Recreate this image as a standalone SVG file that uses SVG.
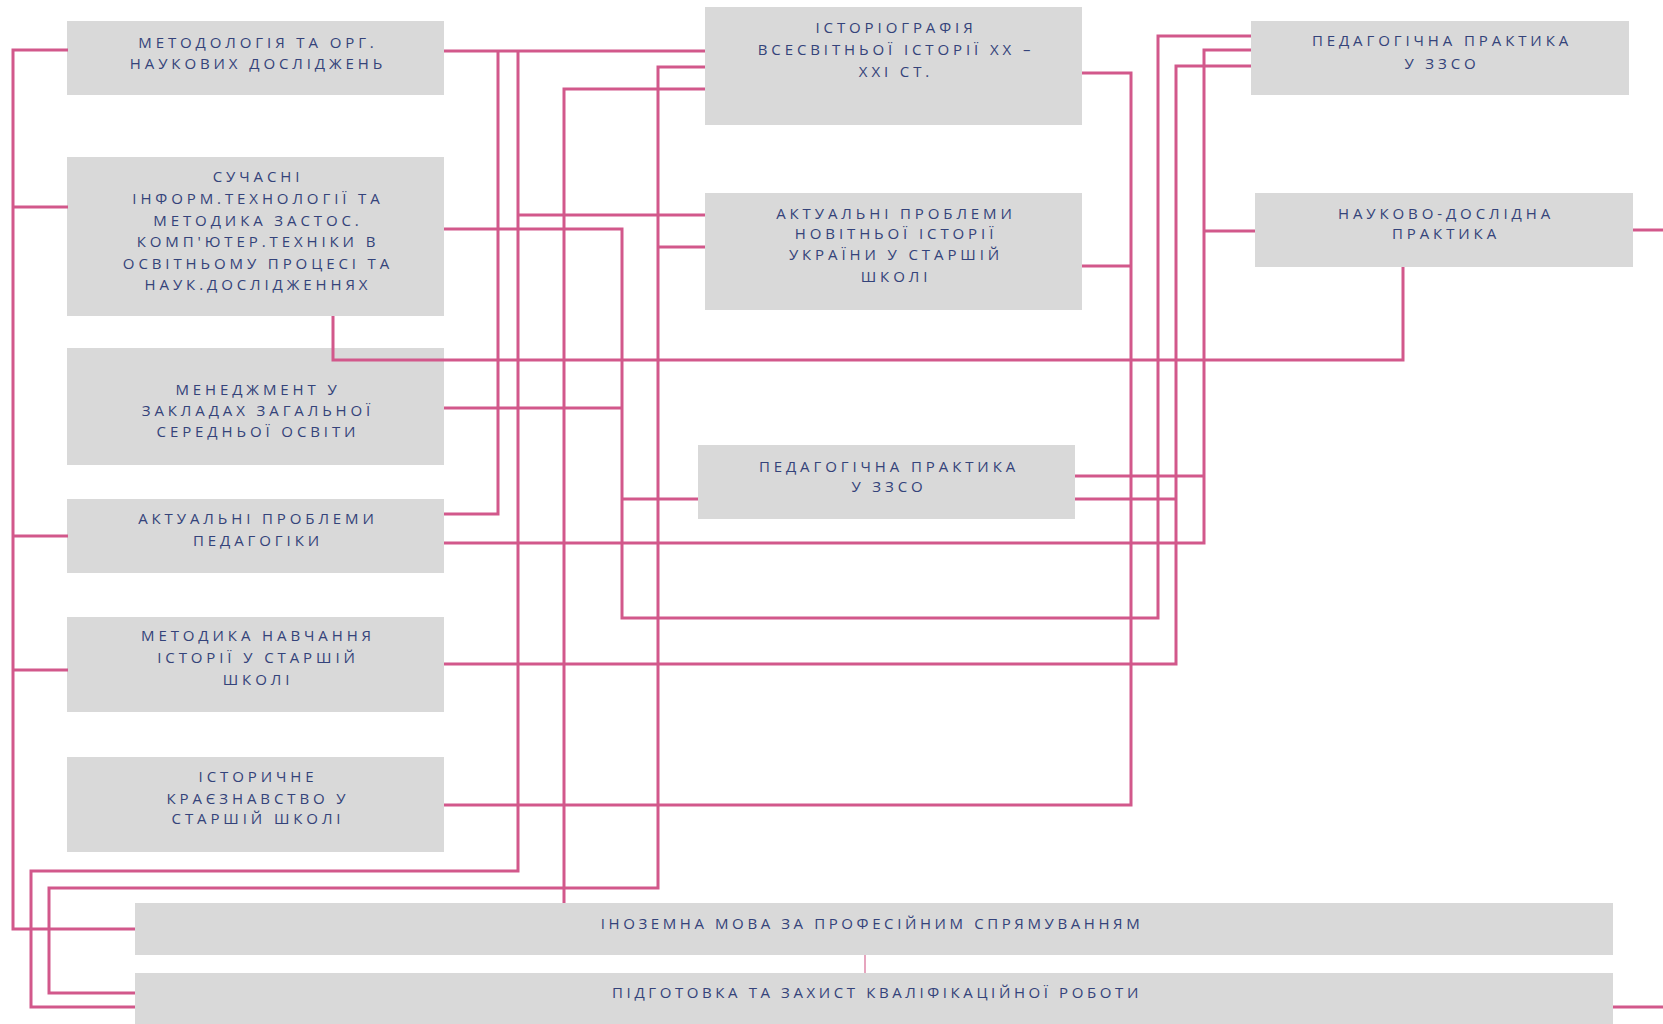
<svg xmlns="http://www.w3.org/2000/svg" width="1663" height="1024" viewBox="0 0 1663 1024">
<style>
.box{fill:#d9d9d9}
.t{font-family:"Open Sans","Noto Sans","DejaVu Sans",sans-serif;font-size:15px;letter-spacing:3.9px;fill:#34437a;text-anchor:middle}
.tb{font-family:"Open Sans","Noto Sans","DejaVu Sans",sans-serif;font-size:15px;letter-spacing:3.6px;fill:#34437a;text-anchor:middle}
.c{fill:none;stroke:#d2588b;stroke-width:3;stroke-linejoin:miter;stroke-linecap:butt}
.thin{fill:none;stroke:#e08fae;stroke-width:1.6}
</style>
<rect width="1663" height="1024" fill="#ffffff"/>
<g id="n-metodolohiia"><rect class="box" x="67" y="21" width="377" height="74"/>
<text class="t" x="258" y="48">МЕТОДОЛОГІЯ ТА ОРГ.</text>
<text class="t" x="258" y="69">НАУКОВИХ ДОСЛІДЖЕНЬ</text></g>
<g id="n-suchasni"><rect class="box" x="67" y="157" width="377" height="159"/>
<text class="t" x="258" y="182">СУЧАСНІ</text>
<text class="t" x="258" y="204">ІНФОРМ.ТЕХНОЛОГІЇ ТА</text>
<text class="t" x="258" y="226">МЕТОДИКА ЗАСТОС.</text>
<text class="t" x="258" y="247">КОМП'ЮТЕР.ТЕХНІКИ В</text>
<text class="t" x="258" y="269">ОСВІТНЬОМУ ПРОЦЕСІ ТА</text>
<text class="t" x="258" y="290">НАУК.ДОСЛІДЖЕННЯХ</text></g>
<g id="n-menedzhment"><rect class="box" x="67" y="348" width="377" height="117"/>
<text class="t" x="258" y="395">МЕНЕДЖМЕНТ У</text>
<text class="t" x="258" y="416">ЗАКЛАДАХ ЗАГАЛЬНОЇ</text>
<text class="t" x="258" y="437">СЕРЕДНЬОЇ ОСВІТИ</text></g>
<g id="n-ped"><rect class="box" x="67" y="499" width="377" height="74"/>
<text class="t" x="258" y="524">АКТУАЛЬНІ ПРОБЛЕМИ</text>
<text class="t" x="258" y="546">ПЕДАГОГІКИ</text></g>
<g id="n-metodyka"><rect class="box" x="67" y="617" width="377" height="95"/>
<text class="t" x="258" y="641">МЕТОДИКА НАВЧАННЯ</text>
<text class="t" x="258" y="663">ІСТОРІЇ У СТАРШІЙ</text>
<text class="t" x="258" y="685">ШКОЛІ</text></g>
<g id="n-kraieznavstvo"><rect class="box" x="67" y="757" width="377" height="95"/>
<text class="t" x="258" y="782">ІСТОРИЧНЕ</text>
<text class="t" x="258" y="804">КРАЄЗНАВСТВО У</text>
<text class="t" x="258" y="824">СТАРШІЙ ШКОЛІ</text></g>
<g id="n-istoriohrafiia"><rect class="box" x="705" y="7" width="377" height="118"/>
<text class="t" x="896" y="33">ІСТОРІОГРАФІЯ</text>
<text class="t" x="896" y="55">ВСЕСВІТНЬОЇ ІСТОРІЇ XX –</text>
<text class="t" x="896" y="77">XXI СТ.</text></g>
<g id="n-novitnia"><rect class="box" x="705" y="193" width="377" height="117"/>
<text class="t" x="896" y="219">АКТУАЛЬНІ ПРОБЛЕМИ</text>
<text class="t" x="896" y="239">НОВІТНЬОЇ ІСТОРІЇ</text>
<text class="t" x="896" y="260">УКРАЇНИ У СТАРШІЙ</text>
<text class="t" x="896" y="282">ШКОЛІ</text></g>
<g id="n-pp-middle"><rect class="box" x="698" y="445" width="377" height="74"/>
<text class="t" x="889" y="472">ПЕДАГОГІЧНА ПРАКТИКА</text>
<text class="t" x="889" y="492">У ЗЗСО</text></g>
<g id="n-pp-top"><rect class="box" x="1251" y="21" width="378" height="74"/>
<text class="t" x="1442" y="46">ПЕДАГОГІЧНА ПРАКТИКА</text>
<text class="t" x="1442" y="69">У ЗЗСО</text></g>
<g id="n-naukovo"><rect class="box" x="1255" y="193" width="378" height="74"/>
<text class="t" x="1446" y="219">НАУКОВО-ДОСЛІДНА</text>
<text class="t" x="1446" y="239">ПРАКТИКА</text></g>
<g id="n-inozemna"><rect class="box" x="135" y="903" width="1478" height="52"/>
<text class="tb" x="872" y="929">ІНОЗЕМНА МОВА ЗА ПРОФЕСІЙНИМ СПРЯМУВАННЯМ</text></g>
<g id="n-pidhotovka"><rect class="box" x="135" y="973" width="1478" height="60"/>
<text class="tb" x="877" y="998">ПІДГОТОВКА ТА ЗАХИСТ КВАЛІФІКАЦІЙНОЇ РОБОТИ</text></g>
<g id="connectors">
<path class="c" d="M68,50 H13 V929 H135 M13,207 H68 M13,536 H68 M13,670 H68"/>
<path class="c" d="M444,51 H705"/>
<path class="c" d="M498,51 V514 H444"/>
<path class="c" d="M518,51 V871 H31 V1007 H135 M518,215 H705"/>
<path class="c" d="M705,89 H564 V903"/>
<path class="c" d="M705,67 H658 V888 H49 V993 H135 M658,247 H705"/>
<path class="c" d="M444,229 H622 V618 H1158 V36 H1251 M444,408 H622 M622,499 H698"/>
<path class="c" d="M333,316 V360 H1403 V267"/>
<path class="c" d="M1082,73 H1131 V805 H444 M1082,266 H1131"/>
<path class="c" d="M444,543 H1204 V50 H1251 M1204,231 H1255 M1075,476 H1204"/>
<path class="c" d="M444,664 H1176 V66 H1251 M1075,499 H1176"/>
<path class="c" d="M1633,230 H1663"/>
<path class="c" d="M1613,1007 H1663"/>
<path class="thin" d="M865,955 V973"/>
</g>
</svg>
